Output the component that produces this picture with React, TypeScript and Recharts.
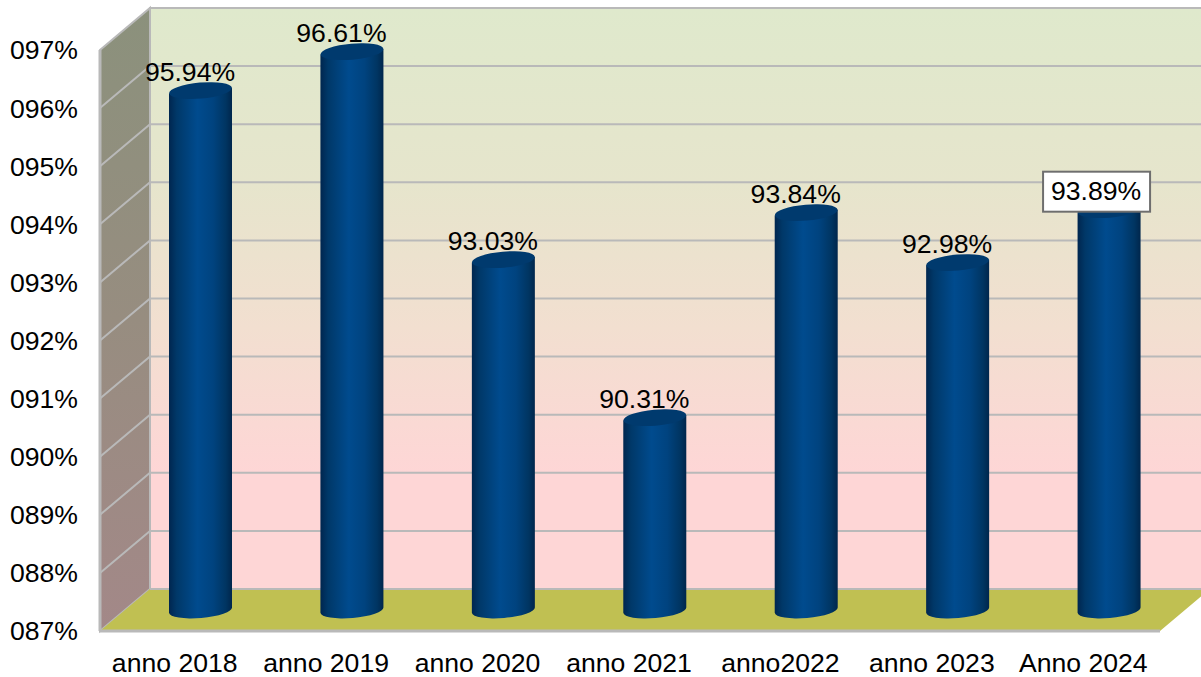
import React from "react";
import {
  BarChart,
  Bar,
  XAxis,
  YAxis,
  LabelList,
  Customized,
  usePlotArea,
} from "recharts";

const categories = [
  "anno 2018",
  "anno 2019",
  "anno 2020",
  "anno 2021",
  "anno2022",
  "anno 2023",
  "Anno 2024",
];
const rates = [95.94, 96.61, 93.03, 90.31, 93.84, 92.98, 93.89];
const yTicks = [87, 88, 89, 90, 91, 92, 93, 94, 95, 96, 97];

const data = categories.map((name, i) => ({ name, value: rates[i] }));

const FONT = '"Liberation Sans", Arial, sans-serif';
const DEPTH_X = 50;
const DEPTH_Y = 42;
const GRID = "#b9b9b9";

const Walls = () => {
  const plot = usePlotArea();
  if (!plot) return null;
  const { x, y, width, height } = plot;
  const bottom = y + height;
  const right = x + width;
  const step = height / (yTicks.length - 1);
  return (
    <g>
      <defs>
        <linearGradient id="backWall" x1="0" y1="0" x2="0" y2="1">
          <stop offset="0" stopColor="#dfe9cc" />
          <stop offset="0.3" stopColor="#e6e5cc" />
          <stop offset="0.55" stopColor="#f2dfd0" />
          <stop offset="0.8" stopColor="#fed6d6" />
          <stop offset="1" stopColor="#fed6d6" />
        </linearGradient>
        <linearGradient id="sideWall" x1="0" y1="0" x2="0" y2="1">
          <stop offset="0" stopColor="#8b917c" />
          <stop offset="0.5" stopColor="#978d80" />
          <stop offset="1" stopColor="#a38888" />
        </linearGradient>
        <linearGradient id="cylinder" x1="0" y1="0" x2="1" y2="0">
          <stop offset="0" stopColor="#00264f" />
          <stop offset="0.12" stopColor="#003868" />
          <stop offset="0.45" stopColor="#004b8e" />
          <stop offset="0.7" stopColor="#00437f" />
          <stop offset="0.9" stopColor="#003562" />
          <stop offset="1" stopColor="#00264c" />
        </linearGradient>
      </defs>
      <rect
        x={x + DEPTH_X}
        y={y - DEPTH_Y}
        width={width}
        height={height}
        fill="url(#backWall)"
        stroke={GRID}
        strokeWidth={2}
      />
      <polygon
        points={`${x},${y} ${x + DEPTH_X},${y - DEPTH_Y} ${x + DEPTH_X},${bottom - DEPTH_Y} ${x},${bottom}`}
        fill="url(#sideWall)"
        stroke={GRID}
        strokeWidth={2}
      />
      {yTicks.slice(1, -1).map((t, i) => {
        const ty = bottom - step * (i + 1);
        return (
          <polyline
            key={t}
            points={`${x},${ty} ${x + DEPTH_X},${ty - DEPTH_Y} ${right + DEPTH_X},${ty - DEPTH_Y}`}
            fill="none"
            stroke={GRID}
            strokeWidth={2}
          />
        );
      })}
      <polygon
        points={`${x},${bottom} ${x + DEPTH_X},${bottom - DEPTH_Y} ${right + DEPTH_X},${bottom - DEPTH_Y} ${right},${bottom}`}
        fill="#c0c052"
      />
      <line x1={x + DEPTH_X} y1={bottom - DEPTH_Y} x2={right + DEPTH_X} y2={bottom - DEPTH_Y} stroke={GRID} strokeWidth={2} />
      <line x1={x} y1={bottom} x2={right} y2={bottom} stroke={GRID} strokeWidth={3} />
      <line x1={x} y1={y} x2={x} y2={bottom} stroke={GRID} strokeWidth={3} />
    </g>
  );
};

const Cylinder = (props: any) => {
  const { x, y, width, height } = props;
  const left = x + DEPTH_X / 2;
  const top = y - DEPTH_Y / 2;
  const cx = left + width / 2;
  const base = top + height;
  const rx = width / 2;
  const ry = 8;
  const tilt = 2.8;
  return (
    <g>
      <path
        d={`M${left},${top + tilt} L${left},${base + tilt} A${rx},${ry} -5 0 0 ${left + width},${base - tilt} L${left + width},${top - tilt} Z`}
        fill="url(#cylinder)"
      />
      <ellipse cx={cx} cy={top} rx={rx} ry={ry} fill="#003a6e" transform={`rotate(-5 ${cx} ${top})`} />
    </g>
  );
};

const ValueLabel = (props: any) => {
  const { x, y, width, value, index } = props;
  const boxed = index === rates.length - 1;
  const cx = x + width / 2 + DEPTH_X / 2 - (boxed ? 13 : 10.5);
  const cy = y - DEPTH_Y / 2 - (boxed ? 19 : 18.5);
  return (
    <g>
      {boxed && (
        <rect x={cx - 53} y={cy - 19} width={107} height={40} fill="#fff" stroke="#6e6e6e" strokeWidth={2} />
      )}
      <text x={cx} y={cy + 9} textAnchor="middle" fontFamily={FONT} fontSize={26.6} fill="#000">
        {value.toFixed(2)}%
      </text>
    </g>
  );
};

const App = () => {
  return (
    <div style={{ position: "absolute", left: 0, top: 0, width: 1201, height: 677, overflow: "hidden", background: "#fff" }}>
      <BarChart
        width={1201}
        height={677}
        data={data}
        margin={{ top: 50, right: 41, left: 0, bottom: 0 }}
        style={{ fontFamily: FONT }}
      >
        <XAxis
          dataKey="name"
          height={46}
          axisLine={false}
          tickLine={false}
          interval={0}
          tickMargin={16}
          tick={{ fill: "#000", fontSize: 26.6, fontFamily: FONT, dx: -1 }}
        />
        <YAxis
          width={100}
          type="number"
          domain={[87, 97]}
          ticks={yTicks}
          interval={0}
          axisLine={false}
          tickLine={false}
          tickSize={0}
          tickMargin={22}
          tickFormatter={(v: number) => `0${v}%`}
          tick={{ fill: "#000", fontSize: 26.6, fontFamily: FONT }}
        />
        <Customized component={Walls} />
        <Bar dataKey="value" barSize={63} shape={Cylinder} isAnimationActive={false}>
          <LabelList dataKey="value" content={ValueLabel} />
        </Bar>
      </BarChart>
    </div>
  );
};

export default App;
